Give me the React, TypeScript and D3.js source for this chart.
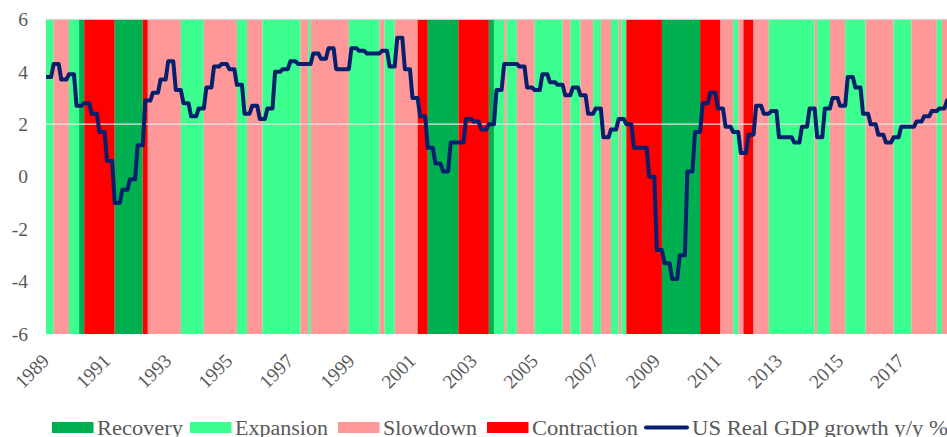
import React from "react";
import * as d3 from "d3";

// ---------- DATA ----------
const tickYears = [1989, 1991, 1993, 1995, 1997, 1999, 2001, 2003, 2005, 2007, 2009, 2011, 2013, 2015, 2017];
const yTicks = [-6, -4, -2, 0, 2, 4, 6];

const regimeNames = ["Recovery", "Expansion", "Slowdown", "Contraction"];
const regimeCodes = ["R", "E", "S", "C"];
const regimeColors = ["#00B050", "#3DFF8F", "#FF9999", "#FF0000"];

// month index (0 = Jan 1989) where each regime band begins
const bandStartMonth = [
  0, 3, 9, 13, 15, 27, 38, 40, 53, 62,
  75, 79, 85, 100, 103, 104, 119, 131, 133, 137,
  146, 150, 162, 174, 176, 180, 181, 185, 192, 203,
  206, 210, 215, 218, 222, 225, 226, 228, 242, 257,
  265, 270, 272, 274, 278, 284, 302, 303, 308, 314,
  322, 333, 340, 350, 352,
];
const bandRegime = [
  "E", "S", "E", "R", "C", "R", "C", "S", "E", "S",
  "E", "S", "E", "S", "E", "S", "E", "S", "E", "S",
  "C", "R", "C", "R", "E", "S", "E", "S", "E", "S",
  "E", "S", "E", "S", "E", "S", "E", "C", "R", "C",
  "S", "E", "S", "C", "S", "E", "S", "E", "S", "E",
  "S", "E", "S", "E", "S",
];
const lastMonth = 356;

// US real GDP growth y/y %, quarterly from 1989 Q1
const gdpYoY = [
  3.8, 4.3, 3.7, 3.9,
  2.7, 2.8, 2.4, 1.7,
  0.6, -1.0, -0.5, -0.1,
  1.2, 2.9, 3.2, 3.7,
  4.4, 3.3, 2.8, 2.3,
  2.6, 3.4, 4.2, 4.3,
  4.1, 3.5, 2.4, 2.7,
  2.2, 2.6, 4.0, 4.1,
  4.4, 4.3, 4.3, 4.7,
  4.5, 4.9, 4.1, 4.1,
  4.9, 4.8, 4.7, 4.7,
  4.8, 4.2, 5.3, 4.1,
  3.0, 2.3, 1.1, 0.5,
  0.2, 1.3, 1.3, 2.2,
  2.1, 1.8, 2.0, 3.3,
  4.3, 4.3, 4.2, 3.4,
  3.3, 3.9, 3.6, 3.5,
  3.1, 3.4, 3.1, 2.4,
  2.6, 1.5, 1.8, 2.2,
  2.0, 1.1, 1.1, 0.0,
  -2.8, -3.3, -3.9, -3.0,
  0.2, 1.7, 2.8, 3.2,
  2.6, 1.9, 1.7, 0.9,
  1.6, 2.7, 2.4, 2.5,
  1.5, 1.5, 1.3, 1.9,
  2.6, 1.5, 2.6, 3.0,
  2.7, 3.8, 3.4, 2.4,
  2.0, 1.6, 1.3, 1.5,
  1.9, 1.9, 2.1, 2.3,
  2.5, 2.6, 2.9,
];

// ---------- CHART ----------
const W = 947;
const H = 437;
const plotLeft = 46;
const plotRight = 947;
const plotTop = 19.3;
const plotBottom = 334;
const FONT = "'Liberation Serif', 'Times New Roman', serif";
const TEXT = "#595959";
const LINE = "#06206E";

export default function App() {
  const x = d3.scaleLinear().domain([0, 354]).range([plotLeft, plotRight]);
  const y = d3.scaleLinear().domain([-6, 6]).range([plotBottom, plotTop]);

  const monthly = d3.range(lastMonth).map((m) => gdpYoY[Math.floor(m / 3)]);
  const line = d3
    .line<number>()
    .x((_, i) => x(i))
    .y((d) => y(d));

  const bands = bandStartMonth.map((s, i) => {
    const e = i + 1 < bandStartMonth.length ? bandStartMonth[i + 1] : lastMonth;
    const r = regimeCodes.indexOf(bandRegime[i]);
    return { s, e, color: regimeColors[r] };
  });

  const legendSwatchX = [52, 190, 338, 487];
  const legendTextLen = [86, 93, 94, 106];
  const legendY = 427.5;

  return (
    <svg
      width={W}
      height={H}
      style={{ position: "absolute", left: 0, top: 0, background: "#fff" }}
      fontFamily={FONT}
    >
      <defs>
        <clipPath id="plotClip">
          <rect x={plotLeft} y={0} width={plotRight - plotLeft} height={H} />
        </clipPath>
      </defs>
      <g clipPath="url(#plotClip)">
        {bands.map((b, i) => (
          <rect
            key={i}
            x={x(b.s)}
            y={plotTop}
            width={x(b.e) - x(b.s)}
            height={plotBottom - plotTop}
            fill={b.color}
          />
        ))}
        <line x1={plotLeft} x2={plotRight} y1={y(6)} y2={y(6)} stroke="#D9D9D9" strokeWidth={1} />
        <line x1={plotLeft} x2={plotRight} y1={y(2)} y2={y(2)} stroke="#E3E3E3" strokeWidth={1.3} />
        <path
          d={line(monthly) || ""}
          fill="none"
          stroke={LINE}
          strokeWidth={4}
          strokeLinejoin="round"
          strokeLinecap="round"
        />
      </g>

      {yTicks.map((t) => (
        <text key={t} x={28} y={y(t) + 6.8} textAnchor="end" fontSize={19.5} fill={TEXT}>
          {t}
        </text>
      ))}

      {tickYears.map((yr) => {
        const m = (yr - 1989) * 12;
        const px = x(m) + 4.5;
        return (
          <text
            key={yr}
            transform={`translate(${px},362) rotate(-45)`}
            textAnchor="end"
            fontSize={19.5}
            fill={TEXT}
          >
            {yr}
          </text>
        );
      })}

      {regimeNames.map((n, i) => (
        <g key={n}>
          <rect x={legendSwatchX[i]} y={legendY - 5.5} width={41.5} height={11} fill={regimeColors[i]} />
          <text
            x={legendSwatchX[i] + 45}
            y={legendY + 7}
            fontSize={20.5}
            fill={TEXT}
            textLength={legendTextLen[i]}
            lengthAdjust="spacingAndGlyphs"
          >
            {n}
          </text>
        </g>
      ))}
      <line x1={646} x2={687} y1={legendY} y2={legendY} stroke={LINE} strokeWidth={4} strokeLinecap="round" />
      <text
        x={692}
        y={legendY + 7}
        fontSize={20.5}
        fill={TEXT}
        textLength={256}
        lengthAdjust="spacingAndGlyphs"
      >
        US Real GDP growth y/y %
      </text>
    </svg>
  );
}
